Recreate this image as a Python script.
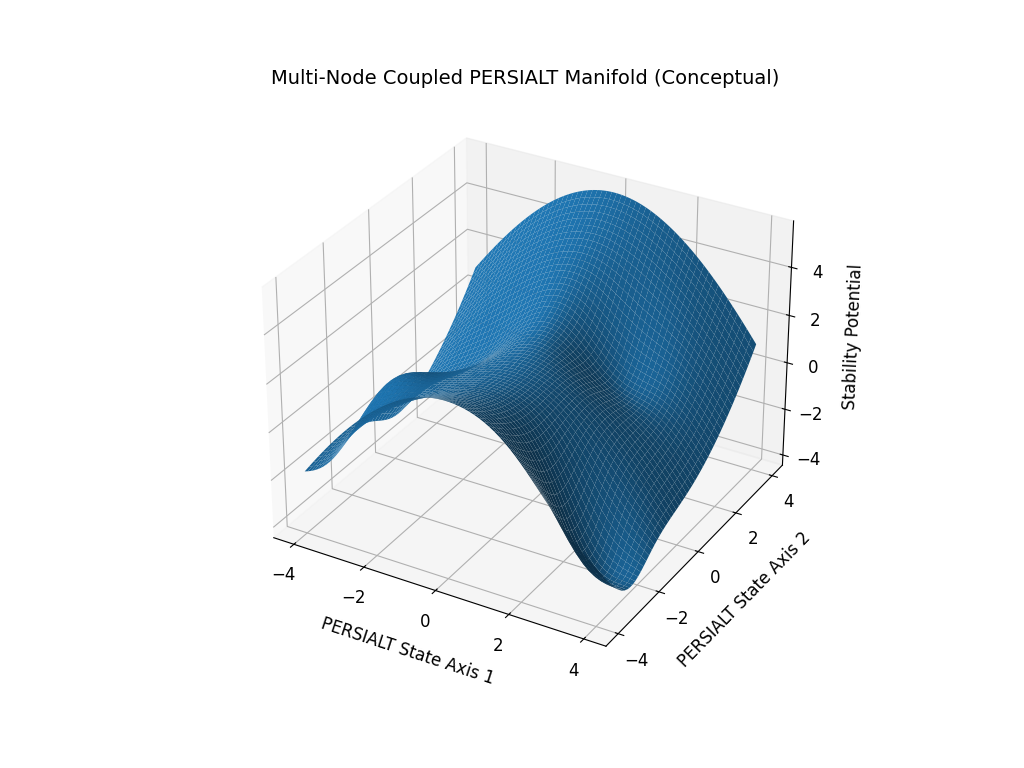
import numpy as np, matplotlib
matplotlib.use("Agg")
import matplotlib.pyplot as plt, seaborn as sns
sns.reset_orig()
plt.rcParams['font.family']=['DejaVu Sans']
grid_lim=[-4,4]; n=60
amp_saddle=0.15; amp_wave=1.9; tilt=0.35
well_centers=[(1.5,1.5),(3,-2.5),(-2,1),(-3.2,-1.5)]; well_depth=[-1.5,-2.8,-1,1.8]
ticks=[-4,-2,0,2,4]
x=np.linspace(*grid_lim,n); y=np.linspace(*grid_lim,n)
X,Y=np.meshgrid(x,y)
Z=amp_wave*np.cos(0.45*X)+amp_saddle*(Y**2-X**2)+tilt*Y
for (cx,cy),d in zip(well_centers,well_depth):
    Z+=d*np.exp(-((X-cx)**2+(Y-cy)**2)/1.5)
fig=plt.figure(figsize=(10.24,7.68),dpi=100)
ax=fig.add_subplot(projection='3d')
ax.plot_surface(X,Y,Z,color='#1f77b4',rstride=1,cstride=1,linewidth=0)
fs=12
ax.set_xticks(ticks);ax.set_yticks(ticks);ax.set_zticks(ticks)
ax.set_xlabel('PERSIALT State Axis 1',fontsize=fs,labelpad=10);ax.set_ylabel('PERSIALT State Axis 2',fontsize=fs,labelpad=10);ax.set_zlabel('Stability Potential',fontsize=fs,labelpad=8)
ax.tick_params(labelsize=fs)
ax.set_title('Multi-Node Coupled PERSIALT Manifold (Conceptual)',fontsize=14)
fig.savefig('out.png')
